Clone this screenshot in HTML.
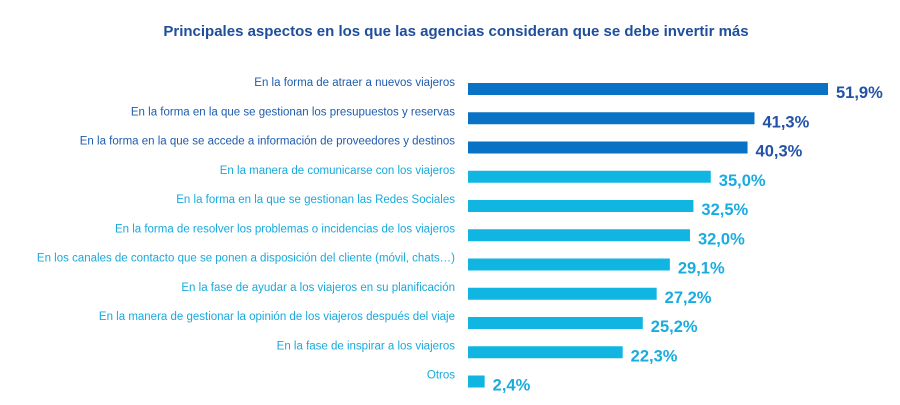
<!DOCTYPE html>
<html><head><meta charset="utf-8"><style>
body{margin:0;background:#fff;width:900px;height:400px;overflow:hidden;font-family:"Liberation Sans",sans-serif}
</style></head><body>
<svg id="chart" width="900" height="400" xmlns="http://www.w3.org/2000/svg">
<text x="456" y="36" text-anchor="middle" font-size="15" font-weight="bold" fill="#1f4e9a">Principales aspectos en los que las agencias consideran que se debe invertir más</text>
<g id="bars"></g>
</svg>
<script>
const categories=["En la forma de atraer a nuevos viajeros","En la forma en la que se gestionan los presupuestos y reservas","En la forma en la que se accede a información de proveedores y destinos","En la manera de comunicarse con los viajeros","En la forma en la que se gestionan las Redes Sociales","En la forma de resolver los problemas o incidencias de los viajeros","En los canales de contacto que se ponen a disposición del cliente (móvil, chats…)","En la fase de ayudar a los viajeros en su planificación","En la manera de gestionar la opinión de los viajeros después del viaje","En la fase de inspirar a los viajeros","Otros"];
const values=[51.9,41.3,40.3,35.0,32.5,32.0,29.1,27.2,25.2,22.3,2.4];
const valueLabels=["51,9%","41,3%","40,3%","35,0%","32,5%","32,0%","29,1%","27,2%","25,2%","22,3%","2,4%"];
const highlighted=[true,true,true,false,false,false,false,false,false,false,false];
const x0=468, pxPer=360/51.9;
const xScale=v=>x0+v*pxPer;
const yScale=i=>89+i*29.25;
const g=document.getElementById('bars');
const NS="http://www.w3.org/2000/svg";
values.forEach((v,i)=>{
  const cy=yScale(i);
  const dark=highlighted[i];
  const r=document.createElementNS(NS,'rect');
  
  
  r.setAttribute('x',x0);r.setAttribute('y',cy-6);
  r.setAttribute('width',xScale(v)-x0);r.setAttribute('height',12);
  r.setAttribute('fill',dark?'#0a72c4':'#10b5e2');
  g.appendChild(r);
  const l=document.createElementNS(NS,'text');
  
  
  l.setAttribute('x',455);l.setAttribute('y',cy-3);
  l.setAttribute('text-anchor','end');l.setAttribute('font-size','11.5');
  l.setAttribute('fill',dark?'#1f5cae':'#18a9dc');
  l.textContent=categories[i];
  g.appendChild(l);
  const t=document.createElementNS(NS,'text');
  
  
  t.setAttribute('x',xScale(v)+8);t.setAttribute('y',cy+9);
  t.setAttribute('font-size','16.5');t.setAttribute('font-weight','bold');
  t.setAttribute('fill',dark?'#2352a8':'#19ace0');
  t.textContent=valueLabels[i];
  g.appendChild(t);
});
</script>
</body></html>
